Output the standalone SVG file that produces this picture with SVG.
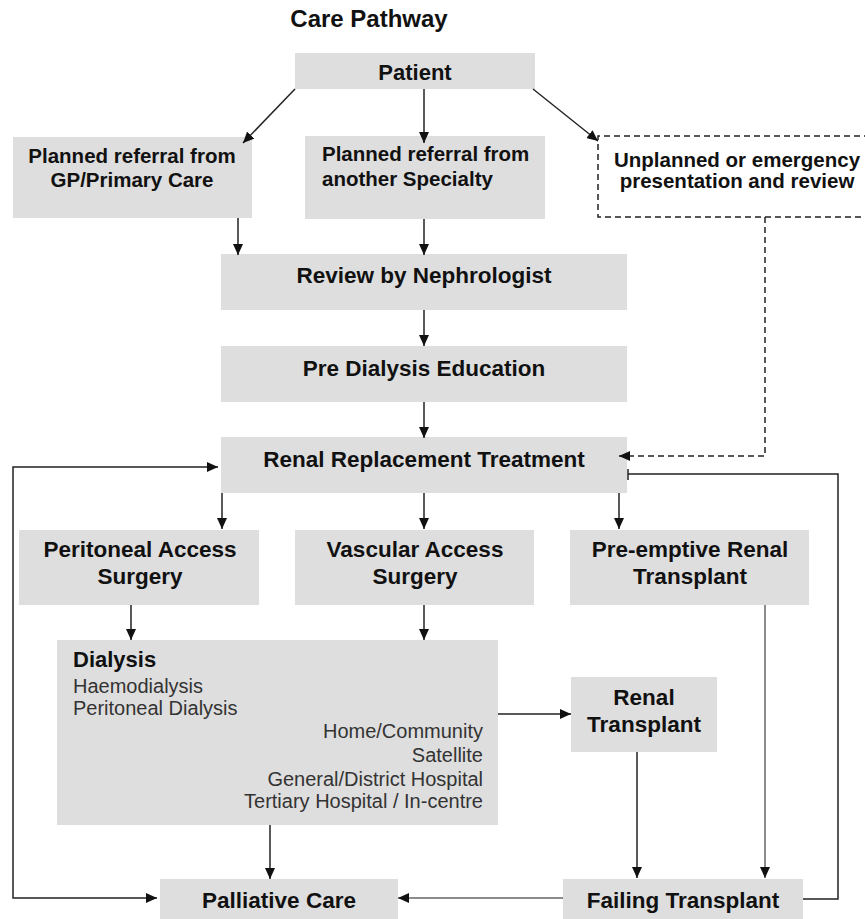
<svg xmlns="http://www.w3.org/2000/svg" width="865" height="919" viewBox="0 0 865 919">
<defs>
<style>
.box{fill:#dedede;}
.t{font-family:"Liberation Sans",Arial,sans-serif;font-weight:bold;font-size:22.5px;fill:#111;}
.m{font-size:20.5px;}
.c{text-anchor:middle;}
.s{font-family:"Liberation Sans",Arial,sans-serif;font-size:20px;fill:#333;}
.ln{fill:none;stroke:#222;stroke-width:1.5;}
.gr{stroke:#666;}
.da{stroke-dasharray:6,4;}
</style>
<marker id="ah" markerUnits="userSpaceOnUse" markerWidth="12" markerHeight="10" refX="11" refY="5" orient="auto-start-reverse">
<path d="M0,0 L11,5 L0,10 z" fill="#111"/>
</marker>
</defs>
<rect width="865" height="919" fill="#fff"/>
<text class="t c" x="369" y="27" style="font-size:24px">Care Pathway</text>

<g id="patient"><rect class="box" x="295" y="53" width="240" height="36"/><text class="t c" x="415" y="80" style="font-size:22px">Patient</text></g>
<g id="gp"><rect class="box" x="13" y="137" width="239" height="81"/><text class="t m c" x="132" y="163">Planned referral from</text><text class="t m c" x="132" y="187">GP/Primary Care</text></g>
<g id="specialty"><rect class="box" x="305" y="136" width="240" height="83"/><text class="t m" x="322" y="161">Planned referral from</text><text class="t m" x="322" y="186">another Specialty</text></g>
<g id="unplanned"><path class="ln da" d="M870,136 L598,136 L598,217 L870,217"/><text class="t m c" x="737" y="167">Unplanned or emergency</text><text class="t m c" x="737" y="188">presentation and review</text></g>
<g id="review"><rect class="box" x="221" y="254" width="406" height="56"/><text class="t c" x="424" y="283">Review by Nephrologist</text></g>
<g id="predialysis"><rect class="box" x="221" y="346" width="406" height="56"/><text class="t c" x="424" y="376">Pre Dialysis Education</text></g>
<g id="rrt"><rect class="box" x="221" y="437" width="406" height="56"/><text class="t c" x="424" y="467">Renal Replacement Treatment</text></g>
<g id="peritoneal"><rect class="box" x="19" y="530" width="240" height="75"/><text class="t c" x="140" y="557">Peritoneal Access</text><text class="t c" x="140" y="584">Surgery</text></g>
<g id="vascular"><rect class="box" x="295" y="530" width="239" height="75"/><text class="t c" x="415" y="557">Vascular Access</text><text class="t c" x="415" y="584">Surgery</text></g>
<g id="preemptive"><rect class="box" x="570" y="530" width="239" height="75"/><text class="t c" x="690" y="557">Pre-emptive Renal</text><text class="t c" x="690" y="584">Transplant</text></g>
<g id="dialysis"><rect class="box" x="57" y="640" width="441" height="185"/>
<text class="t" x="73" y="667" style="font-size:22px">Dialysis</text>
<text class="s" x="73" y="693">Haemodialysis</text>
<text class="s" x="73" y="715">Peritoneal Dialysis</text>
<text class="s" x="483" y="738" text-anchor="end">Home/Community</text>
<text class="s" x="483" y="762" text-anchor="end">Satellite</text>
<text class="s" x="483" y="786" text-anchor="end">General/District Hospital</text>
<text class="s" x="483" y="808" text-anchor="end">Tertiary Hospital / In-centre</text></g>
<g id="renaltransplant"><rect class="box" x="571" y="677" width="146" height="75"/><text class="t c" x="644" y="705">Renal</text><text class="t c" x="644" y="732">Transplant</text></g>
<g id="palliative"><rect class="box" x="160" y="879" width="238" height="45"/><text class="t c" x="279" y="908">Palliative Care</text></g>
<g id="failing"><rect class="box" x="563" y="879" width="240" height="45"/><text class="t c" x="683" y="908">Failing Transplant</text></g>

<g id="connectors">
<path class="ln" d="M295,89 L243,143" marker-end="url(#ah)"/>
<path class="ln" d="M424,89 L424,143" marker-end="url(#ah)"/>
<path class="ln" d="M533,89 L598,141" marker-end="url(#ah)"/>
<path class="ln" d="M238,218 L238,255" marker-end="url(#ah)"/>
<path class="ln" d="M424,219 L424,255" marker-end="url(#ah)"/>
<path class="ln" d="M424,310 L424,346" marker-end="url(#ah)"/>
<path class="ln" d="M424,402 L424,438" marker-end="url(#ah)"/>
<path class="ln da" d="M765,217 L765,456 L619,456" marker-end="url(#ah)"/>
<path class="ln" d="M222,493 L222,529" marker-end="url(#ah)"/>
<path class="ln" d="M424,493 L424,529" marker-end="url(#ah)"/>
<path class="ln" d="M619,493 L619,529" marker-end="url(#ah)"/>
<path class="ln" d="M131,605 L131,640" marker-end="url(#ah)"/>
<path class="ln" d="M424,605 L424,640" marker-end="url(#ah)"/>
<path class="ln gr" d="M765,605 L765,878" marker-end="url(#ah)"/>
<path class="ln" d="M498,714 L571,714" marker-end="url(#ah)"/>
<path class="ln" d="M637,752 L637,878" marker-end="url(#ah)"/>
<path class="ln" d="M270,825 L270,879" marker-end="url(#ah)"/>
<path class="ln gr" d="M563,898 L398,898" marker-end="url(#ah)"/>
<path class="ln" d="M218,467 L13,467 L13,898 L157,898" marker-start="url(#ah)" marker-end="url(#ah)"/>
<path class="ln" d="M803,899 L838,899 L838,474 L628,474"/>
<path class="ln" d="M628,469 L628,480" stroke-width="2.5"/>
</g>
</svg>
